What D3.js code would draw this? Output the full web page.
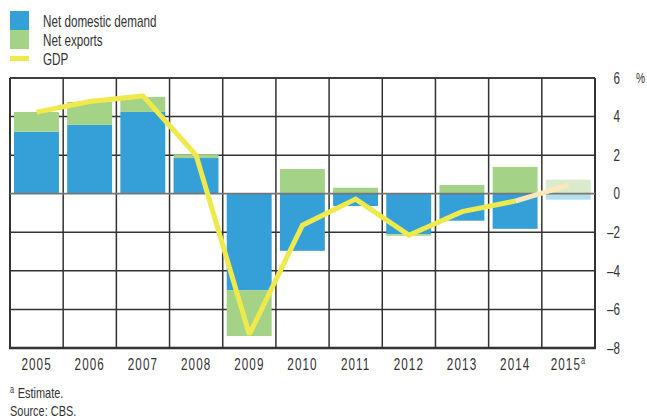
<!DOCTYPE html>
<html><head><meta charset="utf-8">
<script src="https://cdn.jsdelivr.net/npm/d3@7"></script>
<style>
body{margin:0;background:#fff;}
text{font-family:"Liberation Sans",Arial,sans-serif;fill:#333;}
</style></head>
<body><svg id="c" width="647" height="418"></svg>
<script>
const years = ["2005","2006","2007","2008","2009","2010","2011","2012","2013","2014","2015"];
const domestic = [3.22, 3.57, 4.24, 1.85, -5.0, -2.96, -0.64, -2.1, -1.40, -1.82, -0.31];
const netExports = [1.02, 1.19, 0.78, 0.18, -2.38, 1.28, 0.31, -0.08, 0.45, 1.39, 0.73];
const gdp = [4.23, 4.78, 5.07, 1.99, -7.3, -1.63, -0.28, -2.15, -0.93, -0.38, 0.45];
const yTicks = [6, 4, 2, 0, -2, -4, -6, -8];
const estimateYear = "2015";
const legendLabels = ["Net domestic demand", "Net exports", "GDP"];

const SX = 0.73; // condensed look
const tr = (px, py) => `translate(${px},${py}) scale(${SX},1)`;

const svg = d3.select("#c");
const L = 10, R = 595, T = 78, B = 348;
const x = d3.scaleBand().domain(years).range([L, R]).padding(0);
const y = d3.scaleLinear().domain([-8, 6]).range([B, T]);
const bw = x.bandwidth();
const colors = {dom:"#359fd8", exp:"#a4d287", domE:"#b3dfec", expE:"#dbe9cd", gdp:"#efe94c", gdpE:"#fde8b9"};

// grid (behind bars)
const g = svg.append("g");
g.selectAll(".hg").data(yTicks.filter(v => v !== 0 && v !== -8)).enter().append("line")
  .attr("x1", L).attr("x2", R).attr("y1", d => y(d)).attr("y2", d => y(d))
  .attr("stroke", "#333").attr("stroke-width", 1.5);
g.selectAll(".vg").data(years.slice(1)).enter().append("line")
  .attr("x1", d => x(d)).attr("x2", d => x(d)).attr("y1", T).attr("y2", B)
  .attr("stroke", "#333").attr("stroke-width", 1.5);

// stacked bars
const table = years.map((yr, i) => ({year: yr, dom: domestic[i], exp: netExports[i]}));
const stack = d3.stack().keys(["dom", "exp"]).offset(d3.stackOffsetDiverging);
const series = stack(table);
series.forEach(s => {
  svg.append("g").selectAll("rect").data(s).enter().append("rect")
    .attr("x", d => x(d.data.year) + bw * 0.075)
    .attr("width", bw * 0.845)
    .attr("y", d => y(Math.max(d[0], d[1])))
    .attr("height", d => Math.abs(y(d[0]) - y(d[1])))
    .attr("fill", d => d.data.year === estimateYear ? colors[s.key + "E"] : colors[s.key]);
});

// frame
svg.append("line").attr("x1", L).attr("x2", R).attr("y1", T).attr("y2", T).attr("stroke", "#333").attr("stroke-width", 1.5);
svg.append("line").attr("x1", L).attr("x2", L).attr("y1", T).attr("y2", B).attr("stroke", "#333").attr("stroke-width", 2);
svg.append("line").attr("x1", R).attr("x2", R).attr("y1", T).attr("y2", B + 1).attr("stroke", "#333").attr("stroke-width", 2);
svg.append("line").attr("x1", L - 1).attr("x2", R + 1).attr("y1", y(-8)).attr("y2", y(-8)).attr("stroke", "#333").attr("stroke-width", 2.5);
// zero line (on top of bars)
svg.append("line").attr("x1", L).attr("x2", R).attr("y1", y(0)).attr("y2", y(0)).attr("stroke", "#777").attr("stroke-width", 1.8);

// GDP line
const pts = years.map((yr, i) => [x(yr) + bw / 2, y(gdp[i])]);
const line = d3.line();
const ei = years.indexOf(estimateYear);
svg.append("path").attr("d", line(pts.slice(0, ei)))
  .attr("fill", "none").attr("stroke", colors.gdp).attr("stroke-width", 5)
  .attr("stroke-linejoin", "miter").attr("stroke-miterlimit", 2);
svg.append("path").attr("d", line(pts.slice(ei - 1, ei + 1)))
  .attr("fill", "none").attr("stroke", colors.gdpE).attr("stroke-width", 5);

// right axis labels
svg.selectAll(".yl").data(yTicks).enter().append("text")
  .attr("transform", d => tr(620, y(d))).attr("dy", "0.36em")
  .attr("text-anchor", "end").attr("font-size", 16)
  .text(d => d < 0 ? "\u2013" + Math.abs(d) : d);
svg.append("text").attr("transform", tr(636, y(6))).attr("dy", "0.36em").attr("font-size", 14).text("%");

// x labels
const xl = svg.selectAll(".xl").data(years).enter().append("text")
  .attr("transform", d => tr(x(d) + bw / 2, 370))
  .attr("text-anchor", "middle").attr("font-size", 16).attr("letter-spacing", 1.5);
xl.append("tspan").text(d => d);
xl.filter(d => d === estimateYear).append("tspan").attr("font-size", 10).attr("dy", -6).text("a");

// legend
svg.append("rect").attr("x", 10).attr("y", 11).attr("width", 19).attr("height", 19).attr("fill", colors.dom);
svg.append("rect").attr("x", 10).attr("y", 30).attr("width", 19).attr("height", 19).attr("fill", colors.exp);
svg.append("rect").attr("x", 10).attr("y", 56).attr("width", 19).attr("height", 5).attr("fill", colors.gdp);
svg.selectAll(".lg").data(legendLabels).enter().append("text")
  .attr("transform", (d, i) => tr(43, 27 + i * 19)).attr("font-size", 16).text(d => d);

// footnotes
const fn = svg.append("text").attr("transform", tr(10, 398)).attr("font-size", 15);
fn.append("tspan").attr("font-size", 10).attr("dy", -5).text("a");
fn.append("tspan").attr("dy", 5).attr("dx", 5).text("Estimate.");
svg.append("text").attr("transform", tr(10, 416)).attr("font-size", 15).text("Source: CBS.");
</script></body></html>
